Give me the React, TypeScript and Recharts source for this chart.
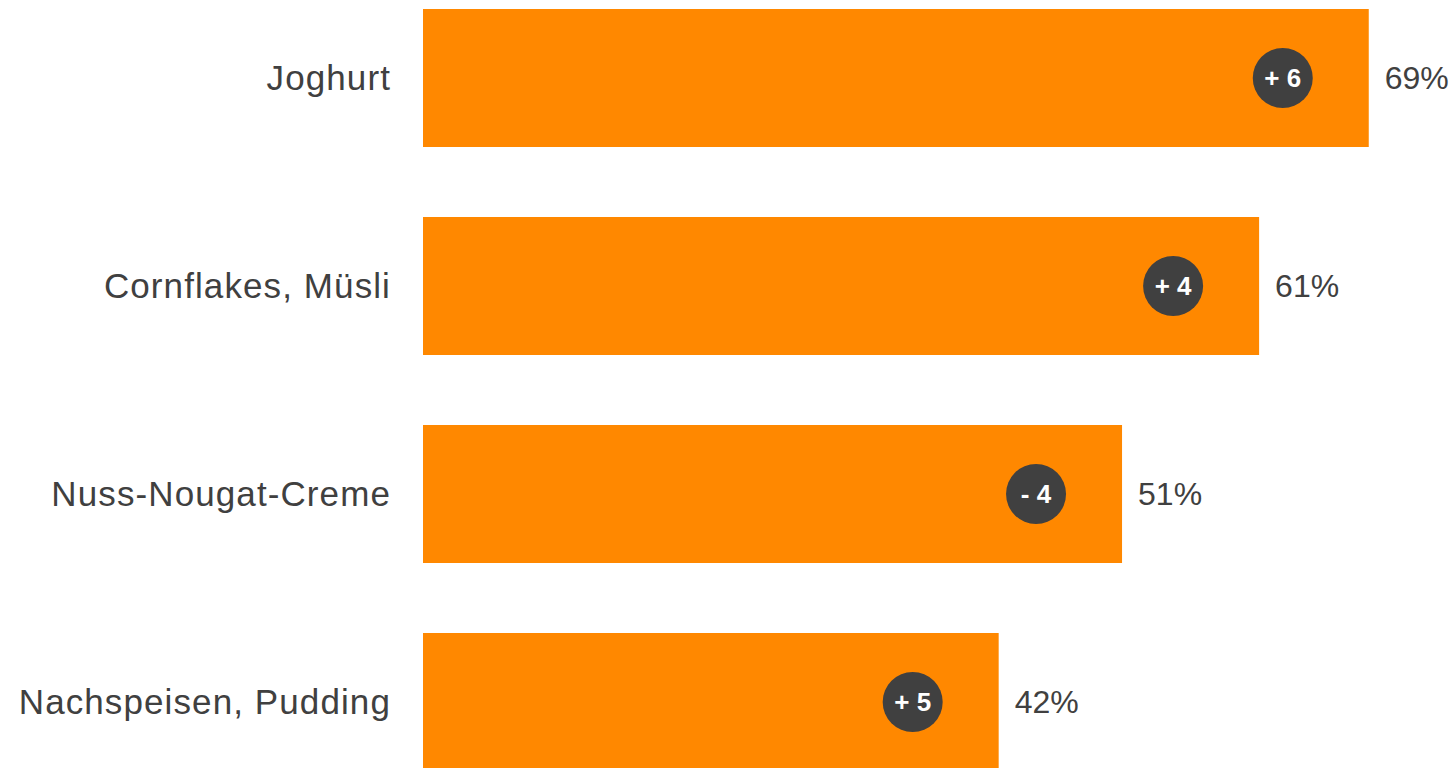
import React from 'react';
import { BarChart, Bar, XAxis, YAxis, LabelList } from 'recharts';

const categories = ['Joghurt', 'Cornflakes, Müsli', 'Nuss-Nougat-Creme', 'Nachspeisen, Pudding'];
const shares = [69, 61, 51, 42];
const changes = ['+ 6', '+ 4', '- 4', '+ 5'];

const data = categories.map((name, i) => ({ name, share: shares[i], change: changes[i] }));

const FONT = 'Liberation Sans, Arial, sans-serif';
const TEXT = '#404040';

function CategoryTick({ x, y, payload }: any) {
  return (
    <text
      x={x + 1}
      y={y}
      dy="0.35em"
      textAnchor="end"
      fill={TEXT}
      fontSize={35}
      fontFamily={FONT}
      letterSpacing={1.1}
    >
      {payload.value}
    </text>
  );
}

function ChangeBadge({ x, y, width, height, value }: any) {
  const cx = x + width - 86;
  const cy = y + height / 2;
  return (
    <g>
      <circle cx={cx} cy={cy} r={30} fill="#404040" />
      <text
        x={cx}
        y={cy}
        dy="0.36em"
        textAnchor="middle"
        fill="#ffffff"
        fontSize={26}
        fontWeight="bold"
        fontFamily={FONT}
      >
        {value}
      </text>
    </g>
  );
}

export default function App() {
  return (
    <div style={{ position: 'absolute', left: 0, top: 0, width: 1455, height: 768, overflow: 'hidden', background: '#fff' }}>
      <div style={{ position: 'relative', top: -26 }}>
        <BarChart
          width={1455}
          height={832}
          data={data}
          layout="vertical"
          margin={{ top: 0, right: 4, bottom: 0, left: 0 }}
        >
          <XAxis type="number" domain={[0, 75]} hide />
          <YAxis
            type="category"
            dataKey="name"
            width={423}
            axisLine={false}
            tickLine={false}
            tickSize={0}
            tickMargin={33}
            tick={<CategoryTick />}
          />
          <Bar dataKey="share" fill="#FF8800" barSize={138} isAnimationActive={false}>
            <LabelList dataKey="change" content={<ChangeBadge />} />
            <LabelList
              dataKey="share"
              position="right"
              offset={16}
              formatter={(v: any) => `${v}%`}
              fill={TEXT}
              fontSize={32}
              fontFamily={FONT}
            />
          </Bar>
        </BarChart>
      </div>
    </div>
  );
}
